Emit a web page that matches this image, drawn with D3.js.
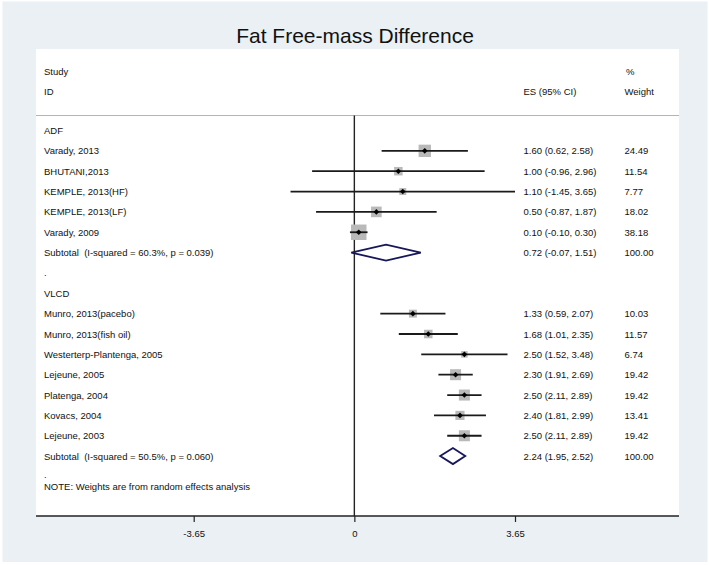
<!DOCTYPE html>
<html>
<head>
<meta charset="utf-8">
<script src="https://cdn.jsdelivr.net/npm/d3@7"></script>
<style>
  html, body { margin: 0; padding: 0; background: #ffffff; }
  svg { display: block; }
  text { font-family: "Liberation Sans", Arial, Helvetica, sans-serif; fill: #111; white-space: pre; }
</style>
</head>
<body>
<svg id="chart" width="709" height="565"></svg>
<script>
// ---------------- DATA ----------------
const title = "Fat Free-mass Difference";
const groupNames = ["ADF", "VLCD"];

const adfStudies = ["Varady, 2013", "BHUTANI,2013", "KEMPLE, 2013(HF)", "KEMPLE, 2013(LF)", "Varady, 2009"];
const adfES      = [1.60, 1.00, 1.10, 0.50, 0.10];
const adfLow     = [0.62, -0.96, -1.45, -0.87, -0.10];
const adfHigh    = [2.58, 2.96, 3.65, 1.87, 0.30];
const adfWeight  = ["24.49", "11.54", "7.77", "18.02", "38.18"];
const adfSubtotal = { label: "Subtotal  (I-squared = 60.3%, p = 0.039)", es: 0.72, lo: -0.07, hi: 1.51, w: "100.00" };

const vlcdStudies = ["Munro, 2013(pacebo)", "Munro, 2013(fish oil)", "Westerterp-Plantenga, 2005", "Lejeune, 2005", "Platenga, 2004", "Kovacs, 2004", "Lejeune, 2003"];
const vlcdES      = [1.33, 1.68, 2.50, 2.30, 2.50, 2.40, 2.50];
const vlcdLow     = [0.59, 1.01, 1.52, 1.91, 2.11, 1.81, 2.11];
const vlcdHigh    = [2.07, 2.35, 3.48, 2.69, 2.89, 2.99, 2.89];
const vlcdWeight  = ["10.03", "11.57", "6.74", "19.42", "19.42", "13.41", "19.42"];
const vlcdSubtotal = { label: "Subtotal  (I-squared = 50.5%, p = 0.060)", es: 2.24, lo: 1.95, hi: 2.52, w: "100.00" };

const noteText = "NOTE: Weights are from random effects analysis";
const xTicks = [-3.65, 0, 3.65];
const xTickLabels = ["-3.65", "0", "3.65"];

// ---------------- BUILD ROWS ----------------
function studyRows(names, es, lo, hi, w) {
  return names.map((n, i) => ({ type: "study", label: n, es: es[i], lo: lo[i], hi: hi[i], w: w[i] }));
}
const rows = [];
rows.push({ type: "group", label: groupNames[0] });
studyRows(adfStudies, adfES, adfLow, adfHigh, adfWeight).forEach(r => rows.push(r));
rows.push(Object.assign({ type: "subtotal" }, adfSubtotal));
rows.push({ type: "blank", label: "." });
rows.push({ type: "group", label: groupNames[1] });
studyRows(vlcdStudies, vlcdES, vlcdLow, vlcdHigh, vlcdWeight).forEach(r => rows.push(r));
rows.push(Object.assign({ type: "subtotal" }, vlcdSubtotal));
rows.push({ type: "blank", label: "." });

const fmt = v => v.toFixed(2);
const esText = r => `${fmt(r.es)} (${fmt(r.lo)}, ${fmt(r.hi)})`;

// ---------------- LAYOUT ----------------
const svg = d3.select("#chart");
const panel = { x0: 36, x1: 679, y0: 49, y1: 516 };
const sepY = 115.5;
const firstRowY = 130.5, rowStep = 20.35;

const x = d3.scaleLinear().domain([-3.65, 3.65]).range([193.7, 515.0]);
const y = d3.scaleLinear().domain([0, 1]).range([firstRowY, firstRowY + rowStep]);

const fontSize = "9.5px";
const colLabel = 44, colES = 523.5, colW = 624.5;

// background
svg.append("rect").attr("x", 2.5).attr("y", 1.5).attr("width", 705).attr("height", 560.5).attr("fill", "#eaf0f3");
svg.append("rect").attr("x", panel.x0).attr("y", panel.y0)
  .attr("width", panel.x1 - panel.x0).attr("height", panel.y1 - panel.y0).attr("fill", "#ffffff");

// title
svg.append("text").attr("x", 355).attr("y", 35).attr("text-anchor", "middle")
  .attr("dominant-baseline", "central").style("font-size", "21px").text(title);

// header
const header = [
  { t: "Study", x: colLabel, y: 71 },
  { t: "ID", x: colLabel, y: 91 },
  { t: "ES (95% CI)", x: colES, y: 91 },
  { t: "%", x: colW + 1.5, y: 71 },
  { t: "Weight", x: colW, y: 91 }
];
svg.selectAll("text.hdr").data(header).enter().append("text").attr("class", "hdr")
  .attr("x", d => d.x).attr("y", d => d.y).attr("dominant-baseline", "central")
  .style("font-size", fontSize).text(d => d.t);

// separator
svg.append("line").attr("x1", panel.x0).attr("x2", panel.x1).attr("y1", sepY).attr("y2", sepY)
  .attr("stroke", "#b4b4b4").attr("stroke-width", 1);

// zero line
svg.append("line").attr("x1", x(0)).attr("x2", x(0)).attr("y1", sepY).attr("y2", panel.y1)
  .attr("stroke", "#222").attr("stroke-width", 1.4);

// row labels
const rowG = svg.selectAll("g.row").data(rows).enter().append("g").attr("class", "row");
rowG.append("text")
  .attr("x", colLabel)
  .attr("y", (d, i) => y(i) - (d.type === "blank" && i === rows.length - 1 ? 2 : 0))
  .attr("dominant-baseline", "central").style("font-size", fontSize).text(d => d.label);

// ES and weight columns
const estRows = rows.map((r, i) => Object.assign({ i }, r)).filter(r => r.type === "study" || r.type === "subtotal");
svg.selectAll("text.es").data(estRows).enter().append("text").attr("class", "es")
  .attr("x", colES).attr("y", d => y(d.i)).attr("dominant-baseline", "central")
  .style("font-size", fontSize).text(d => esText(d));
svg.selectAll("text.wt").data(estRows).enter().append("text").attr("class", "wt")
  .attr("x", colW).attr("y", d => y(d.i)).attr("dominant-baseline", "central")
  .style("font-size", fontSize).text(d => d.w);

// study markers
const studies = estRows.filter(r => r.type === "study");
const boxSide = d => 2.5 * Math.sqrt(+d.w);
svg.selectAll("rect.box").data(studies).enter().append("rect").attr("class", "box")
  .attr("x", d => x(d.es) - boxSide(d) / 2).attr("y", d => y(d.i) - boxSide(d) / 2)
  .attr("width", boxSide).attr("height", boxSide).attr("fill", "#b9b9b9");
svg.selectAll("line.ci").data(studies).enter().append("line").attr("class", "ci")
  .attr("x1", d => x(d.lo)).attr("x2", d => x(d.hi))
  .attr("y1", d => y(d.i)).attr("y2", d => y(d.i))
  .attr("stroke", "#1a1a1a").attr("stroke-width", 1.8);
svg.selectAll("path.pt").data(studies).enter().append("path").attr("class", "pt")
  .attr("d", d => {
    const cx = x(d.es), cy = y(d.i), r = 2.8;
    return `M${cx},${cy - r}L${cx + r},${cy}L${cx},${cy + r}L${cx - r},${cy}Z`;
  })
  .attr("fill", "#000");

// subtotal diamonds
const subs = estRows.filter(r => r.type === "subtotal");
svg.selectAll("path.dia").data(subs).enter().append("path").attr("class", "dia")
  .attr("d", d => {
    const cy = y(d.i), h = 8;
    return `M${x(d.lo)},${cy}L${x(d.es)},${cy - h}L${x(d.hi)},${cy}L${x(d.es)},${cy + h}Z`;
  })
  .attr("fill", "none").attr("stroke", "#16165a").attr("stroke-width", 1.8).attr("stroke-linejoin", "miter");

// note
svg.append("text").attr("x", colLabel).attr("y", 486.7).attr("dominant-baseline", "central")
  .style("font-size", fontSize).text(noteText);

// x axis
const axis = d3.axisBottom(x).tickValues(xTicks).tickFormat((d, i) => xTickLabels[i]).tickSize(6).tickPadding(8);
const ax = svg.append("g").attr("transform", `translate(0,${panel.y1})`).call(axis);
ax.select(".domain").remove();
ax.selectAll(".tick line").attr("stroke", "#222").attr("stroke-width", 1.2);
ax.selectAll(".tick text").style("font-size", fontSize)
  .style("font-family", "'Liberation Sans', Arial, Helvetica, sans-serif").attr("fill", "#111");
svg.append("line").attr("x1", panel.x0).attr("x2", panel.x1).attr("y1", panel.y1).attr("y2", panel.y1)
  .attr("stroke", "#222").attr("stroke-width", 1.5);
</script>
</body>
</html>
